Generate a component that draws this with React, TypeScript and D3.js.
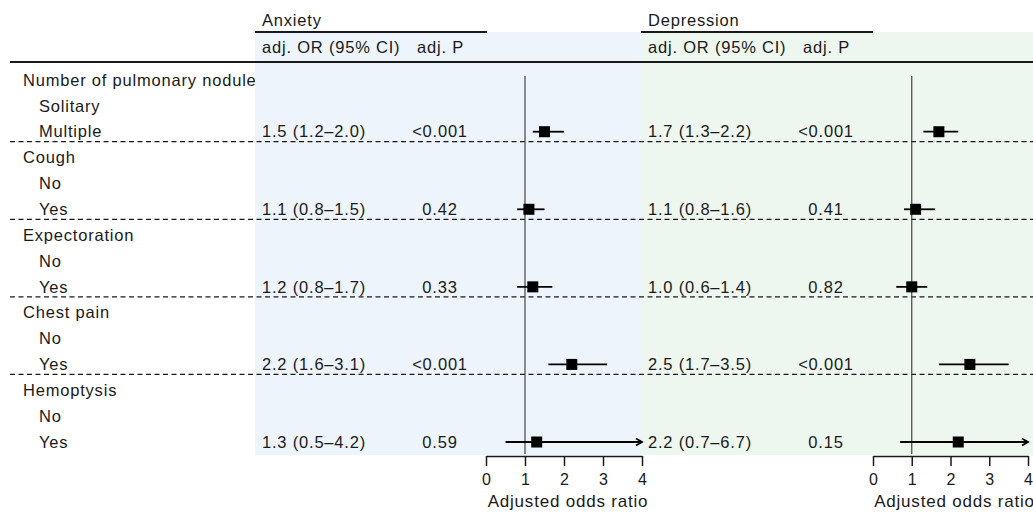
import React, { useEffect, useRef } from "react";
import * as d3 from "d3";

const groups = ["Number of pulmonary nodule", "Cough", "Expectoration", "Chest pain", "Hemoptysis"];
const levels = [
  ["Solitary", "Multiple"],
  ["No", "Yes"],
  ["No", "Yes"],
  ["No", "Yes"],
  ["No", "Yes"],
];

const anxietyOR = [1.5, 1.1, 1.2, 2.2, 1.3];
const anxietyLo = [1.2, 0.8, 0.8, 1.6, 0.5];
const anxietyHi = [2.0, 1.5, 1.7, 3.1, 4.2];
const anxietyP = ["<0.001", "0.42", "0.33", "<0.001", "0.59"];

const depressionOR = [1.7, 1.1, 1.0, 2.5, 2.2];
const depressionLo = [1.3, 0.8, 0.6, 1.7, 0.7];
const depressionHi = [2.2, 1.6, 1.4, 3.5, 6.7];
const depressionP = ["<0.001", "0.41", "0.82", "<0.001", "0.15"];

const axisTicks = [0, 1, 2, 3, 4];

const fmt = (v: number) => v.toFixed(1);

const App = () => {
  const svgRef = useRef<SVGSVGElement>(null);

  useEffect(() => {
    document.body.style.margin = "0";
    const svg = d3.select(svgRef.current);
    svg.selectAll("*").remove();

    const width = 1033,
      height = 513;
    const font = "'Liberation Sans', Arial, Helvetica, sans-serif";
    const ink = "#1a1a1a";

    svg.attr("width", width).attr("height", height).style("display", "block");

    // row index -> y
    const nRows = groups.length * 3;
    const y = d3.scaleLinear().domain([0, nRows - 1]).range([80, 442]);

    const panels = [
      {
        title: "Anxiety",
        left: 255,
        right: 641,
        fill: "#edf4fb",
        x: d3.scaleLinear().domain([0, 4]).range([486, 642]),
        or: anxietyOR,
        lo: anxietyLo,
        hi: anxietyHi,
        p: anxietyP,
      },
      {
        title: "Depression",
        left: 641,
        right: 1033,
        fill: "#eef6f0",
        x: d3.scaleLinear().domain([0, 4]).range([873, 1028]),
        or: depressionOR,
        lo: depressionLo,
        hi: depressionHi,
        p: depressionP,
      },
    ];

    const txt = (g: any, x: number, yy: number, s: string, size = 16.5, anchor = "start") =>
      g
        .append("text")
        .attr("x", x)
        .attr("y", yy)
        .attr("dy", "0.35em")
        .attr("text-anchor", anchor)
        .attr("font-family", font)
        .attr("font-size", size)
        .attr("letter-spacing", 0.8)
        .attr("fill", ink)
        .text(s);

    // row labels
    groups.forEach((name, gi) => {
      txt(svg, 23, y(gi * 3), name);
      levels[gi].forEach((lv, li) => txt(svg, 39, y(gi * 3 + 1 + li), lv));
    });

    // shaded panels
    panels.forEach((p) => {
      svg
        .append("rect")
        .attr("x", p.left)
        .attr("y", 32)
        .attr("width", p.right - p.left)
        .attr("height", 455 - 32)
        .attr("fill", p.fill);
    });

    // dashed group separators
    groups.slice(0, -1).forEach((_, gi) => {
      const yy = y(gi * 3 + 2) + 10;
      svg
        .append("line")
        .attr("x1", 10)
        .attr("x2", width)
        .attr("y1", yy)
        .attr("y2", yy)
        .attr("stroke", ink)
        .attr("stroke-width", 1.2)
        .attr("stroke-dasharray", "5,3.5");
    });

    // thick header rule
    svg
      .append("line")
      .attr("x1", 10)
      .attr("x2", width)
      .attr("y1", 62)
      .attr("y2", 62)
      .attr("stroke", ink)
      .attr("stroke-width", 2.2);

    panels.forEach((p) => {
      const g = svg.append("g");
      const x0 = p.left + 7;
      const pCenter = p.left + 185;

      // header
      txt(g, x0, 20, p.title);
      g.append("line")
        .attr("x1", p.left)
        .attr("x2", p.left + 232)
        .attr("y1", 32)
        .attr("y2", 32)
        .attr("stroke", ink)
        .attr("stroke-width", 2);
      txt(g, x0, 47, "adj. OR (95% CI)");
      txt(g, p.left + 162, 47, "adj. P");

      // reference line at OR = 1
      g.append("line")
        .attr("x1", p.x(1))
        .attr("x2", p.x(1))
        .attr("y1", 76)
        .attr("y2", 454)
        .attr("stroke", "#444")
        .attr("stroke-width", 1.2);

      const maxX = p.x.domain()[1];

      p.or.forEach((v, i) => {
        const yy = y(i * 3 + 2);
        txt(g, x0, yy, `${fmt(v)} (${fmt(p.lo[i])}–${fmt(p.hi[i])})`);
        txt(g, pCenter, yy, p.p[i], 16.5, "middle");

        const clipped = p.hi[i] > maxX;
        const x2 = p.x(Math.min(p.hi[i], maxX));
        g.append("line")
          .attr("x1", p.x(p.lo[i]))
          .attr("x2", x2)
          .attr("y1", yy)
          .attr("y2", yy)
          .attr("stroke", "#000")
          .attr("stroke-width", 1.8);
        if (clipped) {
          g.append("path")
            .attr("d", `M${x2 - 6},${yy - 3.5}L${x2},${yy}L${x2 - 6},${yy + 3.5}`)
            .attr("fill", "none")
            .attr("stroke", "#000")
            .attr("stroke-width", 1.8);
        }
        g.append("rect")
          .attr("x", p.x(v) - 5.5)
          .attr("y", yy - 5.5)
          .attr("width", 11)
          .attr("height", 11)
          .attr("fill", "#000");
      });

      // x axis
      const axis = g
        .append("g")
        .attr("transform", `translate(0, 456)`)
        .call(
          d3
            .axisBottom(p.x)
            .tickValues(axisTicks)
            .tickFormat(d3.format("d"))
            .tickSize(10)
            .tickSizeOuter(0)
            .tickPadding(8)
        );
      axis.select(".domain").attr("stroke", ink).attr("stroke-width", 1.5);
      axis.selectAll(".tick line").attr("stroke", ink).attr("stroke-width", 1.5);
      axis
        .selectAll(".tick text")
        .attr("font-family", font)
        .attr("font-size", 16)
        .attr("fill", ink);

      g.append("text")
        .attr("x", (p.x.range()[0] + p.x.range()[1]) / 2 + 4)
        .attr("y", 507)
        .attr("text-anchor", "middle")
        .attr("font-family", font)
        .attr("font-size", 17)
        .attr("letter-spacing", 0.8)
        .attr("fill", ink)
        .text("Adjusted odds ratio");
    });
  }, []);

  return <svg ref={svgRef}></svg>;
};

export default App;
